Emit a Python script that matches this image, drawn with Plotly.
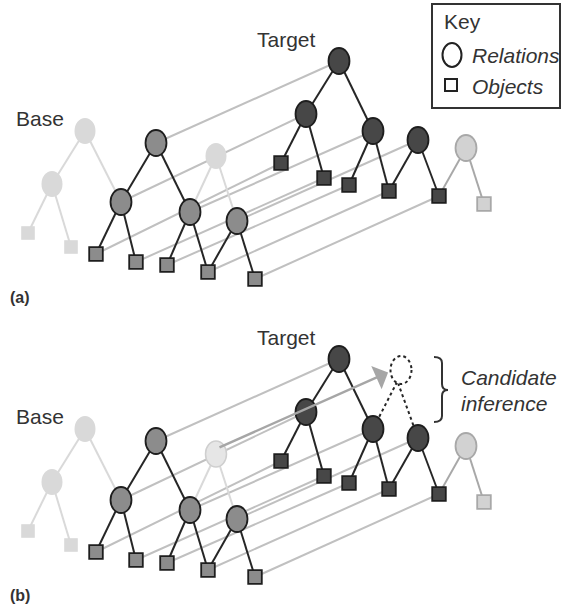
import plotly.graph_objects as go

# ---------------- data (panel (a) pixel coordinates; panel (b) = shifted copy) ----------------
PANEL_SHIFT = [0, 298]

base_rel_x = [156, 121, 190, 237]
base_rel_y = [143, 202, 212, 221]
base_obj_x = [96, 136, 167, 208, 255]
base_obj_y = [254, 262, 265, 272, 279]
base_edges = [("r0", "r1"), ("r0", "r2"), ("r1", "o0"), ("r1", "o1"),
              ("r2", "o2"), ("r2", "o3"), ("r3", "o3"), ("r3", "o4")]

target_rel_x = [339, 306, 373, 418]
target_rel_y = [61, 114, 131, 140]
target_obj_x = [281, 324, 349, 389, 439]
target_obj_y = [163, 178, 185, 191, 196]

# faded (unmatched) parts
faded_base_rel_x = [85, 52]
faded_base_rel_y = [131, 184]
faded_base_obj_x = [28, 71]
faded_base_obj_y = [233, 247]
faded_extra_x = 216
faded_extra_y = 156
faded_target_rel_x = 466
faded_target_rel_y = 148
faded_target_obj_x = 484
faded_target_obj_y = 204

candidate_x = 401
candidate_y = 72

# ---------------- styles ----------------
W, H = 564, 610
RX, RY = 10.5, 13
SQ = 6.8
BASE_FILL = "#8c8c8c"
TARGET_FILL = "#474747"
OUTLINE = "#1e1e1e"
EDGE = "#262626"
MATCH_LINE = "#c0c0c0"
FADED = "#d9d9d9"
FONT = "Liberation Sans, Arial, sans-serif"
TEXT = "#333333"

shapes = []
annotations = []


def ellipse(x, y, fill, line_color, lw=1.8, dash="solid", rx=RX, ry=RY):
    shapes.append(dict(type="circle", xref="x", yref="y", x0=x - rx, x1=x + rx,
                       y0=y - ry, y1=y + ry, fillcolor=fill,
                       line=dict(color=line_color, width=lw, dash=dash)))


def square(x, y, fill, line_color, lw=1.8, s=SQ):
    shapes.append(dict(type="rect", xref="x", yref="y", x0=x - s, x1=x + s,
                       y0=y - s, y1=y + s, fillcolor=fill,
                       line=dict(color=line_color, width=lw)))


def seg(x0, y0, x1, y1, color, lw=2, dash="solid"):
    shapes.append(dict(type="line", xref="x", yref="y", x0=x0, y0=y0, x1=x1, y1=y1,
                       line=dict(color=color, width=lw, dash=dash)))


def text(x, y, s, size=21, italic=False, bold=False, anchor="left"):
    t = f"<b>{s}</b>" if bold else s
    annotations.append(dict(x=x, y=y, xref="x", yref="y", text=t, showarrow=False,
                            xanchor=anchor, yanchor="middle",
                            font=dict(family=FONT, size=size, color=TEXT,
                                      style="italic" if italic else "normal")))


def pos(kind, i, rel_x, rel_y, obj_x, obj_y, dy):
    if kind == "r":
        return rel_x[i], rel_y[i] + dy
    return obj_x[i], obj_y[i] + dy


for panel, dy in enumerate(PANEL_SHIFT):
    def B(n):
        return pos(n[0], int(n[1:]), base_rel_x, base_rel_y, base_obj_x, base_obj_y, dy)

    def T(n):
        return pos(n[0], int(n[1:]), target_rel_x, target_rel_y, target_obj_x, target_obj_y, dy)

    # faded left base tree
    fr = [(faded_base_rel_x[i], faded_base_rel_y[i] + dy) for i in range(2)]
    fo = [(faded_base_obj_x[i], faded_base_obj_y[i] + dy) for i in range(2)]
    seg(*fr[0], *fr[1], FADED, 2)
    seg(*fr[0], *B("r1"), FADED, 2)
    seg(*fr[1], *fo[0], FADED, 2)
    seg(*fr[1], *fo[1], FADED, 2)
    ellipse(*fr[0], FADED, FADED, 0)
    ellipse(*fr[1], FADED, FADED, 0)
    for p in fo:
        square(*p, FADED, FADED, 0)

    # matching lines base -> target
    for i in range(4):
        seg(*B(f"r{i}"), *T(f"r{i}"), MATCH_LINE, 2)
    for i in range(5):
        seg(*B(f"o{i}"), *T(f"o{i}"), MATCH_LINE, 2)

    # faded extra base node
    fe = (faded_extra_x, faded_extra_y + dy)
    fe_col = FADED if panel == 0 else "#e6e6e6"
    fe_line = FADED if panel == 0 else "#cfcfcf"
    seg(*fe, *B("r2"), FADED, 2)
    seg(*fe, *B("r3"), FADED, 2)
    ellipse(*fe, fe_col, fe_line, 1.5 if panel else 0)

    # faded target node
    ft = (faded_target_rel_x, faded_target_rel_y + dy)
    fto = (faded_target_obj_x, faded_target_obj_y + dy)
    seg(*ft, *T("o4"), "#a8a8a8", 2)
    seg(*ft, *fto, "#a8a8a8", 2)
    ellipse(*ft, "#d2d2d2", "#a8a8a8", 1.8)
    square(*fto, "#d2d2d2", "#a8a8a8", 1.8)

    # candidate inference (panel b)
    if panel == 1:
        cand = (candidate_x, candidate_y + dy)
        seg(cand[0] - 4, cand[1] + 12, *T("r2"), EDGE, 2, "dot")
        seg(cand[0] - 3, cand[1] + 13, *T("r3"), EDGE, 2, "dot")

    # base and target tree edges
    for a, b in base_edges:
        seg(*B(a), *B(b), EDGE, 2)
        seg(*T(a), *T(b), EDGE, 2)

    # nodes
    for i in range(4):
        ellipse(*B(f"r{i}"), BASE_FILL, OUTLINE)
        ellipse(*T(f"r{i}"), TARGET_FILL, OUTLINE)
    for i in range(5):
        square(*B(f"o{i}"), BASE_FILL, OUTLINE)
        square(*T(f"o{i}"), TARGET_FILL, OUTLINE)

    if panel == 1:
        ellipse(*cand, "white", EDGE, 2, "dot", rx=10.5, ry=14)
        annotations.append(dict(x=cand[0] - 12, y=cand[1] + 2, xref="x", yref="y",
                                ax=fe[0] + 2, ay=fe[1] - 6, axref="x", ayref="y",
                                text="", showarrow=True, arrowhead=1, arrowsize=1.7,
                                arrowwidth=2.5, arrowcolor="#a6a6a6", standoff=1))

    # labels
    text(255, 39 + dy, "Target")
    text(14, 118 + dy, "Base")
    text(8, 297 + dy, "(" + "ab"[panel] + ")", size=16, bold=True)

# candidate inference brace and text
shapes.append(dict(type="path", xref="x", yref="y",
                   path="M 434,357 Q 442,357 442,363 L 442,384 Q 442,390 448,390 "
                        "Q 442,390 442,396 L 442,416 Q 442,422 434,422",
                   line=dict(color="#333333", width=2)))
text(459, 377, "Candidate", italic=True)
text(459, 403, "inference", italic=True)

# key box
shapes.append(dict(type="rect", xref="x", yref="y", x0=432, x1=560, y0=4, y1=108,
                   fillcolor="white", line=dict(color="#333333", width=2)))
text(442, 21, "Key")
ellipse(452, 55, "white", "#222222", 2, rx=9.5, ry=12)
text(470, 55, "Relations", italic=True)
square(451, 85, "white", "#222222", 2, s=6)
text(470, 86, "Objects", italic=True)

fig = go.Figure()
fig.update_layout(
    width=W, height=H, margin=dict(l=0, r=0, t=0, b=0),
    paper_bgcolor="white", plot_bgcolor="white",
    xaxis=dict(range=[0, W], visible=False, fixedrange=True),
    yaxis=dict(range=[H, 0], visible=False, fixedrange=True),
    shapes=shapes, annotations=annotations, showlegend=False,
)
fig.write_html("out.html", config={"displayModeBar": False},
               post_script="document.body.style.margin='0';")
